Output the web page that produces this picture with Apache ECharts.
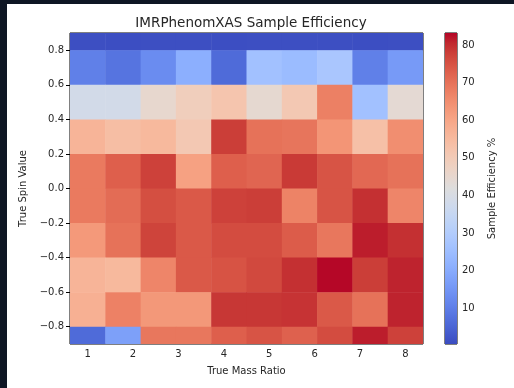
<!DOCTYPE html>
<html>
<head>
<meta charset="utf-8">
<script src="https://cdn.jsdelivr.net/npm/echarts@6/dist/echarts.min.js"></script>
<style>
html,body{margin:0;padding:0;background:#fff;width:514px;height:388px;overflow:hidden;}
#chart{position:absolute;left:0;top:0;width:514px;height:388px;}
#edgeL{position:absolute;left:0;top:0;width:7px;height:388px;background:#0e1624;z-index:5;}
#edgeT{position:absolute;left:0;top:0;width:514px;height:4px;background:#0e1624;z-index:5;}
</style>
</head>
<body>
<div id="chart"></div>
<div id="edgeL"></div>
<div id="edgeT"></div>
<script>
// Mass ratio (column centers) and spin (row centers)
var massRatio = [1, 1.778, 2.556, 3.333, 4.111, 4.889, 5.667, 6.444, 7.222, 8];
var spinValues = [0.9, 0.7, 0.5, 0.3, 0.1, -0.1, -0.3, -0.5, -0.7, -0.9];
// Sample efficiency (%) rows, listed top (spin 0.9) to bottom (spin -0.9)
var effSpin09  = [1.0, 0.9, 1.0, 1.0, 0.9, 1.0, 1.0, 1.0, 0.9, 1.0];
var effSpin07  = [10.4, 8.0, 13.0, 21.0, 6.3, 26.0, 24.5, 28.0, 10.4, 16.0];
var effSpin05  = [38.5, 38.5, 45.0, 49.0, 52.0, 44.6, 51.0, 67.5, 26.0, 44.0];
var effSpin03  = [56.6, 54.0, 55.4, 51.0, 78.0, 70.0, 69.4, 63.6, 53.3, 65.0];
var effSpin01  = [68.6, 73.0, 77.6, 61.0, 73.0, 72.0, 78.5, 74.8, 71.5, 70.0];
var effSpinM01 = [68.6, 71.0, 75.6, 74.0, 77.6, 78.0, 67.0, 74.8, 79.7, 66.5];
var effSpinM03 = [62.8, 70.0, 77.2, 74.0, 76.0, 76.0, 73.5, 69.0, 81.4, 79.7];
var effSpinM05 = [56.6, 55.4, 66.5, 74.0, 75.0, 76.4, 79.7, 83.0, 78.0, 81.0];
var effSpinM07 = [57.5, 67.3, 63.0, 63.0, 78.9, 78.9, 79.3, 74.0, 70.0, 81.0];
var effSpinM09 = [6.3, 17.4, 69.0, 69.0, 73.0, 74.8, 72.7, 76.0, 81.4, 77.6];
var effRows = [effSpin09, effSpin07, effSpin05, effSpin03, effSpin01, effSpinM01, effSpinM03, effSpinM05, effSpinM07, effSpinM09];

var xTicks = [1, 2, 3, 4, 5, 6, 7, 8];
var yTicks = [-0.8, -0.6, -0.4, -0.2, 0.0, 0.2, 0.4, 0.6, 0.8];
var cbTicks = [10, 20, 30, 40, 50, 60, 70, 80];
var cbMin = 0.5, cbMax = 83.2;

// matplotlib coolwarm
var coolwarm = ['#3b4cc0','#445acc','#4d68d7','#5775e1','#6282ea','#6c8ef1','#779af7','#82a5fb','#8db0fe','#98b9ff','#a3c2ff','#aec9fd','#b8d0f9','#c2d5f4','#ccd9ee','#d5dbe6','#dddddd','#e5d8d1','#ecd3c5','#f1ccb9','#f5c4ad','#f7bba0','#f7b194','#f7a687','#f49a7b','#f18d6f','#ec7f63','#e57058','#de604d','#d55042','#cb3e38','#c0282f','#b40426'];

var cellData = [];
for (var r = 0; r < spinValues.length; r++) {
  for (var c = 0; c < massRatio.length; c++) {
    cellData.push([massRatio[c], spinValues[r], effRows[r][c]]);
  }
}
var dx = massRatio[1] - massRatio[0];
var dy = spinValues[0] - spinValues[1];
var xMin = massRatio[0] - dx / 2, xMax = massRatio[massRatio.length - 1] + dx / 2;
var yMin = spinValues[spinValues.length - 1], yMax = spinValues[0];

var txt = '#262626';
var font = 'DejaVu Sans';
function fmtMinus(v) {
  var s = (Math.round(v * 10) / 10).toFixed(1);
  return s.replace('-', '\u2212');
}

var chart = echarts.init(document.getElementById('chart'), null, {renderer: 'canvas'});
var gradStops = coolwarm.map(function (col, i) { return {offset: i / (coolwarm.length - 1), color: col}; });

var option = {
  backgroundColor: '#ffffff',
  animation: false,
  textStyle: {fontFamily: font},
  title: {
    text: 'IMRPhenomXAS Sample Efficiency',
    left: 246, top: 11, textAlign: 'center',
    textStyle: {fontFamily: font, fontSize: 13.5, fontWeight: 'normal', color: txt}
  },
  grid: [
    {left: 70, top: 33, width: 353, height: 311, show: true, borderColor: '#000', borderWidth: 1, backgroundColor: 'transparent'},
    {left: 445, top: 33, width: 12, height: 311, show: true, borderColor: '#000', borderWidth: 1, backgroundColor: 'transparent'}
  ],
  xAxis: [
    {
      type: 'value', gridIndex: 0, min: xMin, max: xMax,
      name: 'True Mass Ratio', nameLocation: 'middle', nameGap: 22,
      nameTextStyle: {fontFamily: font, fontSize: 10, color: txt},
      axisLine: {show: false},
      splitLine: {show: false},
      axisTick: {show: true, length: 4, lineStyle: {color: '#000'}, customValues: xTicks},
      axisLabel: {fontFamily: font, fontSize: 10, color: txt, margin: 5, customValues: xTicks, formatter: function (v) { return String(v); }}
    },
    {type: 'value', gridIndex: 1, min: 0, max: 1, show: false}
  ],
  yAxis: [
    {
      type: 'value', gridIndex: 0, min: yMin, max: yMax,
      name: 'True Spin Value', nameLocation: 'middle', nameGap: 39, nameRotate: 90,
      nameTextStyle: {fontFamily: font, fontSize: 10, color: txt},
      axisLine: {show: false},
      splitLine: {show: false},
      axisTick: {show: true, length: 4, lineStyle: {color: '#000'}, customValues: yTicks},
      axisLabel: {fontFamily: font, fontSize: 10, color: txt, margin: 6, customValues: yTicks, formatter: fmtMinus}
    },
    {
      type: 'value', gridIndex: 1, min: cbMin, max: cbMax, position: 'right',
      name: 'Sample Efficiency %', nameLocation: 'middle', nameGap: 30, nameRotate: 90,
      nameTextStyle: {fontFamily: font, fontSize: 10, color: txt},
      axisLine: {show: false},
      splitLine: {show: false},
      axisTick: {show: true, length: 4, lineStyle: {color: '#000'}, customValues: cbTicks},
      axisLabel: {fontFamily: font, fontSize: 10, color: txt, margin: 5, customValues: cbTicks}
    }
  ],
  visualMap: {
    show: false, type: 'continuous', seriesIndex: 0, dimension: 2,
    min: cbMin, max: cbMax, inRange: {color: coolwarm}
  },
  series: [
    {
      type: 'custom', xAxisIndex: 0, yAxisIndex: 0, clip: true,
      data: cellData,
      encode: {x: 0, y: 1},
      renderItem: function (params, api) {
        var x = api.value(0), y = api.value(1);
        var p1 = api.coord([x - dx / 2, y + dy / 2]);
        var p2 = api.coord([x + dx / 2, y - dy / 2]);
        var rect = echarts.graphic.clipRectByRect(
          {x: p1[0], y: p1[1], width: p2[0] - p1[0], height: p2[1] - p1[1]},
          {x: params.coordSys.x, y: params.coordSys.y, width: params.coordSys.width, height: params.coordSys.height}
        );
        if (!rect) return;
        return {type: 'rect', shape: {x: rect.x, y: rect.y, width: rect.width + 0.5, height: rect.height + 0.5},
                style: {fill: api.visual('color')}};
      },
      z: 1
    },
    {
      type: 'custom', xAxisIndex: 1, yAxisIndex: 1,
      data: [[0, cbMin, cbMax]],
      renderItem: function (params, api) {
        var top = api.coord([0, api.value(2)]);
        var bot = api.coord([1, api.value(1)]);
        return {type: 'rect', shape: {x: top[0], y: top[1], width: bot[0] - top[0], height: bot[1] - top[1]},
                style: {fill: new echarts.graphic.LinearGradient(0, 1, 0, 0, gradStops)}};
      },
      z: 1
    }
  ]
};
chart.setOption(option);
</script>
</body>
</html>
